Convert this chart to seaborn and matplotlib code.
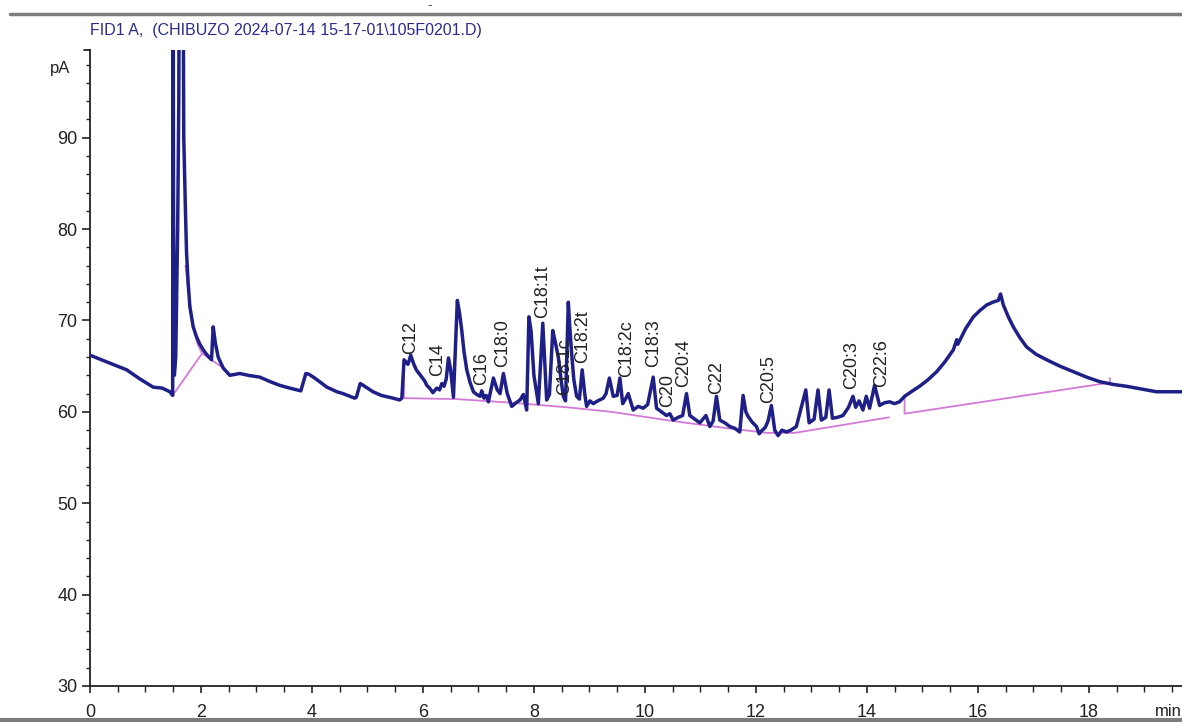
import numpy as np
import pandas as pd
import matplotlib
matplotlib.use("Agg")
import matplotlib.pyplot as plt
import seaborn as sns
from matplotlib.lines import Line2D
from matplotlib.ticker import MultipleLocator

# ---------------- data ----------------
early_min = [0.00, 0.33, 0.66, 0.90, 1.14, 1.30, 1.44, 1.49, 1.495, 1.505, 1.52, 1.545,
             1.58, 1.60, 1.62, 1.665, 1.69, 1.72, 1.74, 1.77, 1.80, 1.86, 1.92, 1.98,
             2.04, 2.10, 2.16, 2.19, 2.22, 2.26, 2.31, 2.40, 2.52, 2.70, 2.85, 3.06,
             3.25, 3.42, 3.60, 3.80, 3.89, 3.95, 4.05, 4.27, 4.45, 4.56, 4.77, 4.80,
             4.87, 4.95, 5.10, 5.25, 5.46, 5.58]
early_pa = [66.2, 65.4, 64.6, 63.6, 62.7, 62.6, 62.2, 61.8, 130, 83, 64, 66,
            80, 94, 130, 130, 90, 82, 77.4, 74.0, 71.5, 69.3, 68.2, 67.4,
            66.8, 66.3, 65.9, 65.7, 69.3, 67.5, 66.0, 64.8, 64.0, 64.2, 64.0, 63.8,
            63.3, 62.9, 62.6, 62.3, 64.2, 64.1, 63.7, 62.7, 62.2, 62.0, 61.5, 61.6,
            63.1, 62.8, 62.2, 61.8, 61.5, 61.3]

fame_min = [5.62, 5.66, 5.70, 5.73, 5.78, 5.83, 5.88, 5.93, 5.98, 6.03, 6.07, 6.12,
            6.18, 6.25, 6.30, 6.34, 6.38, 6.42, 6.46, 6.50, 6.55, 6.62, 6.66, 6.70,
            6.74, 6.79, 6.85, 6.91, 6.97, 7.03, 7.06, 7.10, 7.14, 7.18, 7.27, 7.34,
            7.39, 7.45, 7.52, 7.60, 7.68, 7.75, 7.81, 7.87, 7.91, 7.95, 8.00, 8.08,
            8.16, 8.23, 8.28, 8.34, 8.39, 8.44, 8.49, 8.53, 8.57, 8.62, 8.65, 8.68,
            8.72, 8.77, 8.82, 8.87, 8.92, 8.95, 9.01, 9.07, 9.15, 9.25, 9.30, 9.36,
            9.43, 9.50, 9.55, 9.60, 9.65, 9.70, 9.79, 9.88, 9.97, 10.05, 10.15, 10.21,
            10.30, 10.39, 10.45, 10.51, 10.60, 10.68, 10.75, 10.81, 10.90, 10.99, 11.10, 11.17,
            11.23, 11.29, 11.35, 11.44, 11.53, 11.62, 11.71, 11.77, 11.82, 11.86, 11.93, 12.01,
            12.06, 12.10, 12.17, 12.22, 12.28, 12.34, 12.40, 12.47, 12.55, 12.63, 12.73, 12.79,
            12.90, 12.96, 13.05, 13.12, 13.18, 13.26, 13.32, 13.38, 13.47, 13.57, 13.67, 13.75,
            13.80, 13.86, 13.93, 13.99, 14.05, 14.14, 14.23, 14.32, 14.41, 14.50, 14.59, 14.68]
fame_pa = [61.5, 65.7, 65.4, 65.2, 66.2, 65.3, 64.6, 64.2, 63.8, 63.4, 62.9, 62.6,
           62.1, 62.6, 62.4, 63.1, 62.8, 63.6, 65.9, 64.6, 61.6, 72.2, 70.8, 68.9,
           66.6, 64.6, 63.2, 62.2, 61.9, 61.7, 62.3, 61.5, 61.8, 61.1, 63.7, 62.4,
           62.0, 64.2, 62.0, 60.6, 61.0, 61.3, 61.9, 60.2, 70.4, 68.8, 64.0, 60.9,
           69.7, 61.3, 61.9, 68.9, 67.5, 66.0, 63.5, 61.7, 61.2, 72.0, 69.0, 66.4,
           63.5, 61.7, 61.4, 64.6, 61.8, 60.6, 61.2, 60.9, 61.2, 61.5, 62.0, 63.7,
           61.7, 61.8, 63.7, 60.9, 61.4, 62.0, 60.2, 60.6, 60.4, 60.8, 63.8, 60.4,
           60.0, 59.6, 59.8, 59.1, 59.4, 59.6, 62.0, 59.6, 59.2, 58.8, 59.6, 58.4,
           59.0, 61.7, 59.1, 58.8, 58.4, 58.2, 57.8, 61.8, 60.0, 59.5, 58.9, 58.4,
           57.6, 57.9, 58.3, 59.0, 60.7, 58.0, 57.4, 58.0, 57.8, 58.0, 58.4, 59.8,
           62.4, 58.8, 59.2, 62.4, 59.1, 59.4, 62.4, 59.3, 59.4, 59.6, 60.5, 61.7,
           60.5, 61.2, 60.2, 61.7, 60.4, 62.9, 60.7, 61.0, 61.1, 60.9, 61.1, 61.7]

hump_min = [14.80, 14.95, 15.10, 15.26, 15.41, 15.56, 15.62, 15.64, 15.78, 15.92, 16.04,
            16.16, 16.27, 16.37, 16.41, 16.46, 16.55, 16.64, 16.76, 16.88, 17.05, 17.24,
            17.48, 17.72, 17.96, 18.20, 18.44, 18.68, 18.95, 19.22, 19.45, 19.70]
hump_pa = [62.2, 62.8, 63.5, 64.4, 65.5, 66.8, 67.9, 67.4, 69.1, 70.4, 71.1,
           71.7, 72.0, 72.2, 72.9, 71.7, 70.4, 69.3, 68.1, 67.1, 66.3, 65.7,
           65.0, 64.4, 63.8, 63.3, 63.0, 62.8, 62.5, 62.2, 62.2, 62.2]

# integration baselines (magenta)
base_segment = [0, 0, 0, 1, 1, 1, 1, 2, 2, 2, 2, 2, 2, 2, 2, 2, 2, 2, 2, 2, 3, 3, 3, 3]
base_min = [1.49, 2.02, 2.40, 1.72, 1.84, 1.94, 2.02,
            5.66, 5.66, 6.60, 7.60, 8.60, 9.40, 10.50, 11.50, 12.20, 12.70, 13.40, 14.00, 14.40,
            14.68, 14.68, 18.38, 18.38]
base_pa = [61.8, 66.4, 64.8, 76.0, 69.8, 67.4, 66.4,
           65.7, 61.5, 61.4, 61.0, 60.5, 60.0, 59.0, 58.2, 57.7, 57.7, 58.4, 59.0, 59.4,
           61.7, 59.8, 63.2, 63.7]

# peak annotations
peak_names = ["C12", "C14", "C16", "C18:0", "C18:1t", "C18:1c", "C18:2t", "C18:2c",
              "C18:3", "C20", "C20:4", "C22", "C20:5", "C20:3", "C22:6"]
peak_label_min = [5.78, 6.27, 7.06, 7.44, 8.15, 8.55, 8.87, 9.68,
                  10.16, 10.41, 10.70, 11.30, 12.23, 13.73, 14.27]
peak_label_pa = [66.0, 63.6, 62.6, 64.6, 70.0, 61.5, 65.1, 63.5,
                 64.6, 60.2, 62.4, 61.6, 60.7, 62.2, 62.4]

x_ticks = [0, 2, 4, 6, 8, 10, 12, 14, 16, 18]
y_ticks = [30, 40, 50, 60, 70, 80, 90]
title_text = "FID1 A,  (CHIBUZO 2024-07-14 15-17-01\\105F0201.D)"

# ---------------- build tables ----------------
trace = pd.DataFrame({
    "min": early_min + fame_min + hump_min,
    "pA": early_pa + fame_pa + hump_pa,
})
base = pd.DataFrame({"seg": base_segment, "min": base_min, "pA": base_pa})

# ---------------- style ----------------
sns.set_style("ticks")
plt.rcParams["font.family"] = ["Liberation Sans", "DejaVu Sans"]

W, H = 1182, 722
fig = plt.figure(figsize=(W / 100, H / 100), dpi=100)
ax = fig.add_axes([90 / W, 36 / H, 1 - 90 / W, (686 - 50) / H])

navy = "#1f1f88"
magenta = "#d27ad6"

sns.lineplot(data=base, x="min", y="pA", units="seg", estimator=None, sort=False,
             color=magenta, lw=1.3, ax=ax, zorder=2)
sns.lineplot(data=trace, x="min", y="pA", estimator=None, sort=False,
             color=navy, lw=2.5, ax=ax, zorder=3)

for name, t, v in zip(peak_names, peak_label_min, peak_label_pa):
    ax.text(t, v + 0.3, name, rotation=90, ha="center", va="bottom",
            fontsize=13, color="#222222", zorder=4)

ax.set_xlim(0, 19.68)
ax.set_ylim(30, 99.6)
ax.set_xticks(x_ticks)
ax.set_xticklabels([str(t) for t in x_ticks])
ax.set_yticks(y_ticks)
ax.set_yticklabels([str(t) for t in y_ticks])
ax.xaxis.set_minor_locator(MultipleLocator(0.5))
ax.yaxis.set_minor_locator(MultipleLocator(2))
ax.set_xlabel("")
ax.set_ylabel("")

for s in ["top", "right"]:
    ax.spines[s].set_visible(False)
for s in ["left", "bottom"]:
    ax.spines[s].set_color("#222222")
    ax.spines[s].set_linewidth(1.3)

ax.tick_params(axis="y", which="major", length=6, width=1.2, color="#222222",
               labelsize=13, pad=3, labelcolor="#222222")
ax.tick_params(axis="y", which="minor", length=3, width=1.0, color="#222222")
ax.tick_params(axis="x", which="major", length=5, width=1.2, color="#222222",
               labelsize=13, pad=8, labelcolor="#222222")
ax.tick_params(axis="x", which="minor", length=4, width=1.0, color="#222222")

# top bracket of y axis and unit labels
ax.plot([-0.1, 0], [99.6, 99.6], color="#222222", lw=1.3, clip_on=False)
ax.text(-0.35, 97.6, "pA", ha="right", va="center", fontsize=12, color="#222222")
fig.text(1.0, 1 - 712 / H, "min", ha="right", va="center", fontsize=12, color="#222222")

# title and page frame lines
fig.text(90 / W, 1 - 30 / H, title_text, ha="left", va="center", fontsize=11.5,
         color="#2b2b8e")
fig.text(430 / W, 1 - 5 / H, "-", ha="center", va="center", fontsize=10, color="#555555")
fig.add_artist(Line2D([10 / W, 1], [1 - 14 / H, 1 - 14 / H], color="#7d7d7d", lw=2.5))
fig.add_artist(Line2D([0, 1], [1 - 720 / H, 1 - 720 / H], color="#7d7d7d", lw=3))

fig.savefig("out.png", dpi=100)
